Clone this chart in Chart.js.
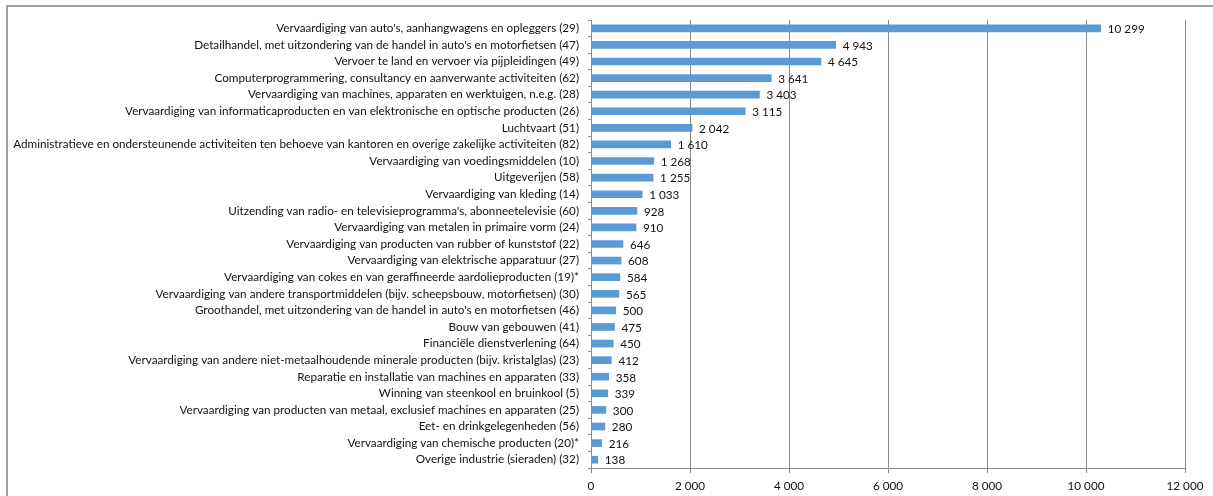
<!DOCTYPE html>
<html>
<head>
<meta charset="utf-8">
<script src="https://cdn.jsdelivr.net/npm/chart.js@4/dist/chart.umd.min.js"></script>
<style>
html,body{margin:0;padding:0;background:#fff;}
canvas{display:block;}
</style>
</head>
<body>
<canvas id="c" width="1213" height="496"></canvas>
<script>
const categories = [
  "Vervaardiging van auto's, aanhangwagens en opleggers (29)",
  "Detailhandel, met uitzondering van de handel in auto's en motorfietsen (47)",
  "Vervoer te land en vervoer via pijpleidingen (49)",
  "Computerprogrammering, consultancy en aanverwante activiteiten (62)",
  "Vervaardiging van machines, apparaten en werktuigen, n.e.g. (28)",
  "Vervaardiging van informaticaproducten en van elektronische en optische producten (26)",
  "Luchtvaart (51)",
  "Administratieve en ondersteunende activiteiten ten behoeve van kantoren en overige zakelijke activiteiten (82)",
  "Vervaardiging van voedingsmiddelen (10)",
  "Uitgeverijen (58)",
  "Vervaardiging van kleding (14)",
  "Uitzending van radio- en televisieprogramma's, abonneetelevisie (60)",
  "Vervaardiging van metalen in primaire vorm (24)",
  "Vervaardiging van producten van rubber of kunststof (22)",
  "Vervaardiging van elektrische apparatuur (27)",
  "Vervaardiging van cokes en van geraffineerde aardolieproducten (19)*",
  "Vervaardiging van andere transportmiddelen (bijv. scheepsbouw, motorfietsen) (30)",
  "Groothandel, met uitzondering van de handel in auto's en motorfietsen (46)",
  "Bouw van gebouwen (41)",
  "Financiële dienstverlening (64)",
  "Vervaardiging van andere niet-metaalhoudende minerale producten (bijv. kristalglas) (23)",
  "Reparatie en installatie van machines en apparaten (33)",
  "Winning van steenkool en bruinkool (5)",
  "Vervaardiging van producten van metaal, exclusief machines en apparaten (25)",
  "Eet- en drinkgelegenheden (56)",
  "Vervaardiging van chemische producten (20)*",
  "Overige industrie (sieraden) (32)"
];
const values = [10299, 4943, 4645, 3641, 3403, 3115, 2042, 1610, 1268, 1255, 1033, 928, 910, 646, 608, 584, 565, 500, 475, 450, 412, 358, 339, 300, 280, 216, 138];
const xTicks = [0, 2000, 4000, 6000, 8000, 10000, 12000];

function fmt(v){
  return String(Math.round(v)).replace(/\B(?=(\d{3})+(?!\d))/g, ' ');
}

const FONT = 'Lato, "Open Sans", sans-serif';
const FSIZE = 11.7;
const TEXT = '#111111';
const GRID = '#8a8a8a';

const frame = {
  id: 'frame',
  beforeDraw(chart){
    const ctx = chart.ctx;
    ctx.save();
    ctx.fillStyle = '#fff';
    ctx.fillRect(0, 0, chart.width, chart.height);
    ctx.strokeStyle = '#a3a3a3';
    ctx.lineWidth = 2;
    ctx.beginPath();
    ctx.moveTo(7, chart.height + 2);
    ctx.lineTo(7, 6);
    ctx.lineTo(chart.width + 2, 6);
    ctx.stroke();
    ctx.restore();
  }
};

const valueLabels = {
  id: 'valueLabels',
  afterDatasetsDraw(chart){
    const ctx = chart.ctx;
    ctx.save();
    ctx.font = FSIZE + 'px ' + FONT;
    ctx.fillStyle = TEXT;
    ctx.textAlign = 'left';
    ctx.textBaseline = 'middle';
    chart.getDatasetMeta(0).data.forEach((bar, i) => {
      ctx.fillText(fmt(values[i]), bar.x + 7, bar.y + 1);
    });
    ctx.restore();
  }
};

new Chart(document.getElementById('c'), {
  type: 'bar',
  data: {
    labels: categories,
    datasets: [{
      data: values,
      backgroundColor: '#5B9BD5',
      barThickness: 7,
      borderWidth: 0
    }]
  },
  options: {
    indexAxis: 'y',
    responsive: false,
    animation: false,
    devicePixelRatio: 1,
    layout: { padding: { top: 20, right: 28, bottom: 0, left: 0 } },
    plugins: { legend: { display: false }, tooltip: { enabled: false } },
    scales: {
      x: {
        min: 0, max: 12000,
        afterBuildTicks(scale){ scale.ticks = xTicks.map(v => ({ value: v })); },
        afterFit(scale){ scale.height = 28; },
        grid: { color: GRID, lineWidth: 1, tickLength: 5, drawTicks: true },
        border: { color: GRID, width: 1 },
        ticks: {
          padding: 6,
          color: TEXT,
          font: { family: FONT, size: FSIZE },
          maxRotation: 0,
          callback: (v) => fmt(v)
        }
      },
      y: {
        afterFit(scale){ scale.width = 591; },
        grid: { drawOnChartArea: false, color: GRID, tickLength: 3, offset: true },
        border: { color: GRID, width: 1 },
        ticks: {
          padding: 9,
          color: TEXT,
          font: { family: FONT, size: FSIZE },
          autoSkip: false
        }
      }
    }
  },
  plugins: [frame, valueLabels]
});
</script>
</body>
</html>
